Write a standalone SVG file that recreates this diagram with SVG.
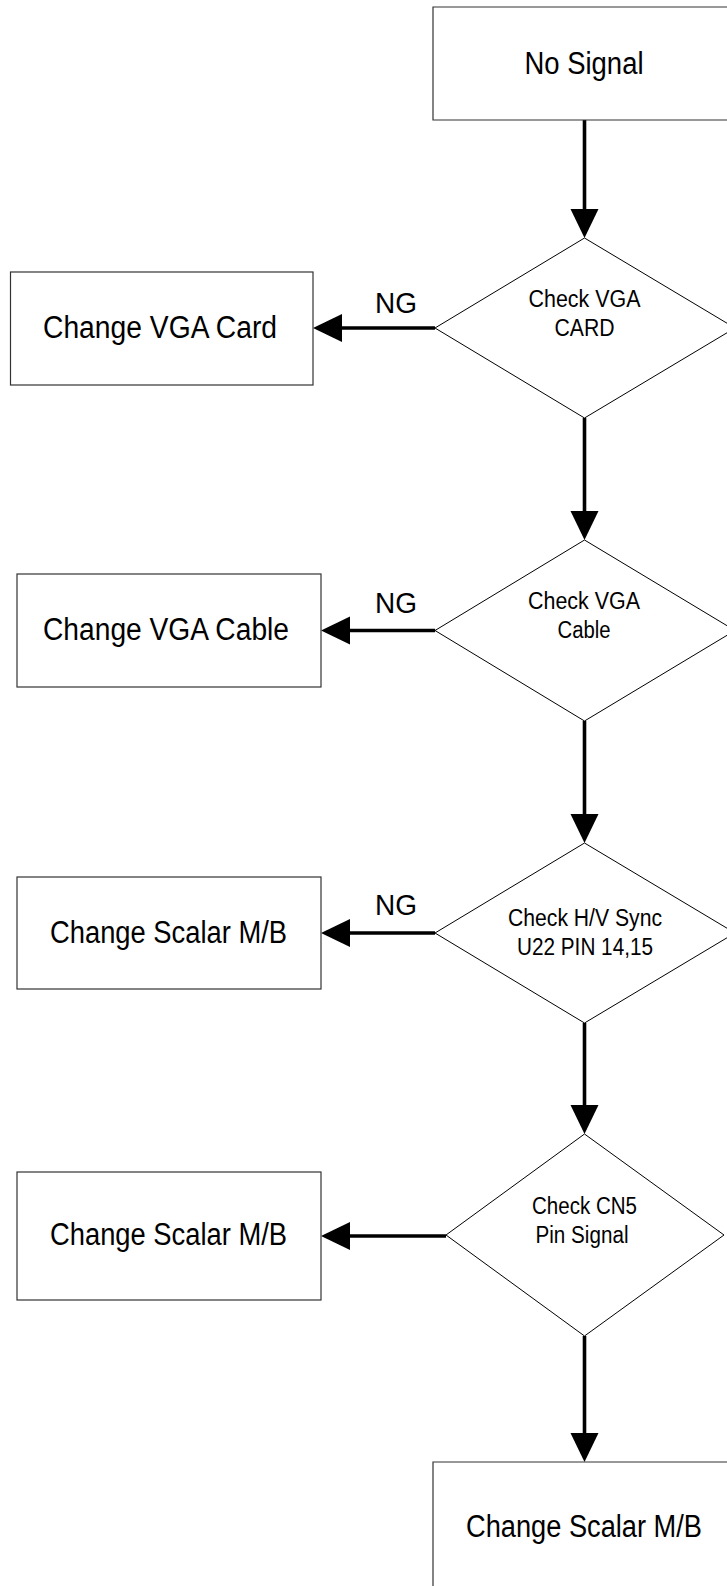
<svg xmlns="http://www.w3.org/2000/svg" width="727" height="1586" viewBox="0 0 727 1586">
<style>
.box{fill:#fff;stroke:#333;stroke-width:1.2}
.dia{fill:#fff;stroke:#000;stroke-width:1}
.t{font-family:"Liberation Sans",Arial,sans-serif;fill:#000;text-anchor:middle}
.bt{font-size:31px}
.dt{font-size:23px}
.ng{font-size:30px}
.ln{stroke:#000;stroke-width:3.6;fill:none}
.hd{fill:#000;stroke:none}
</style>
<rect width="727" height="1586" fill="#fff"/>
<g id="connectors">
<line class="ln" x1="584.5" y1="120" x2="584.5" y2="212"/>
<polygon class="hd" points="570.5,209 598.5,209 584.5,238"/>
<line class="ln" x1="435" y1="328" x2="340" y2="328"/>
<polygon class="hd" points="342,314 342,342 313,328"/>
<line class="ln" x1="584.5" y1="418" x2="584.5" y2="514"/>
<polygon class="hd" points="570.5,511 598.5,511 584.5,540"/>
<line class="ln" x1="435" y1="630.5" x2="347" y2="630.5"/>
<polygon class="hd" points="350,616.5 350,644.5 321,630.5"/>
<line class="ln" x1="584.5" y1="721" x2="584.5" y2="817"/>
<polygon class="hd" points="570.5,814 598.5,814 584.5,843"/>
<line class="ln" x1="435" y1="933" x2="347" y2="933"/>
<polygon class="hd" points="350,919 350,947 321,933"/>
<line class="ln" x1="584.5" y1="1023" x2="584.5" y2="1108"/>
<polygon class="hd" points="570.5,1105 598.5,1105 584.5,1134"/>
<line class="ln" x1="446" y1="1236" x2="347" y2="1236"/>
<polygon class="hd" points="350,1222 350,1250 321,1236"/>
<line class="ln" x1="584.5" y1="1336" x2="584.5" y2="1436"/>
<polygon class="hd" points="570.5,1433 598.5,1433 584.5,1462"/>
<text class="t ng" x="396" y="313" textLength="42" lengthAdjust="spacingAndGlyphs">NG</text>
<text class="t ng" x="396" y="613" textLength="42" lengthAdjust="spacingAndGlyphs">NG</text>
<text class="t ng" x="396" y="915" textLength="42" lengthAdjust="spacingAndGlyphs">NG</text>
</g>
<g id="start">
<path class="box" d="M727,7 H433 V120 H727"/>
<text class="t bt" x="584" y="74" textLength="119" lengthAdjust="spacingAndGlyphs">No Signal</text>
</g>
<g id="check-vga-card">
<polygon class="dia" points="584.5,238 735,328 584.5,418 435,328"/>
<text class="t dt" x="584.5" y="307" textLength="112" lengthAdjust="spacingAndGlyphs">Check VGA</text>
<text class="t dt" x="584.5" y="336" textLength="60" lengthAdjust="spacingAndGlyphs">CARD</text>
</g>
<g id="change-vga-card">
<rect class="box" x="10.5" y="272" width="302.5" height="113"/>
<text class="t bt" x="160" y="338" textLength="234" lengthAdjust="spacingAndGlyphs">Change VGA Card</text>
</g>
<g id="check-vga-cable">
<polygon class="dia" points="584.5,540 735,630.5 584.5,721 435,630.5"/>
<text class="t dt" x="584" y="609" textLength="112" lengthAdjust="spacingAndGlyphs">Check VGA</text>
<text class="t dt" x="584" y="638" textLength="53" lengthAdjust="spacingAndGlyphs">Cable</text>
</g>
<g id="change-vga-cable">
<rect class="box" x="17" y="574" width="304" height="113"/>
<text class="t bt" x="166" y="640" textLength="246" lengthAdjust="spacingAndGlyphs">Change VGA Cable</text>
</g>
<g id="check-hv-sync">
<polygon class="dia" points="584.5,843 735,933 584.5,1023 435,933"/>
<text class="t dt" x="585" y="926" textLength="154" lengthAdjust="spacingAndGlyphs">Check H/V Sync</text>
<text class="t dt" x="585" y="955" textLength="136" lengthAdjust="spacingAndGlyphs">U22 PIN 14,15</text>
</g>
<g id="change-scalar-1">
<rect class="box" x="17" y="877" width="304" height="112"/>
<text class="t bt" x="168.5" y="942.5" textLength="237" lengthAdjust="spacingAndGlyphs">Change Scalar M/B</text>
</g>
<g id="check-cn5">
<polygon class="dia" points="584.5,1134 724,1235 584.5,1336 446,1235"/>
<text class="t dt" x="584.5" y="1214" textLength="105" lengthAdjust="spacingAndGlyphs">Check CN5</text>
<text class="t dt" x="582" y="1243" textLength="93" lengthAdjust="spacingAndGlyphs">Pin Signal</text>
</g>
<g id="change-scalar-2">
<rect class="box" x="17" y="1172" width="304" height="128"/>
<text class="t bt" x="168.5" y="1245" textLength="237" lengthAdjust="spacingAndGlyphs">Change Scalar M/B</text>
</g>
<g id="change-scalar-3">
<path class="box" d="M727,1462 H433 V1586"/>
<text class="t bt" x="584" y="1537" textLength="236" lengthAdjust="spacingAndGlyphs">Change Scalar M/B</text>
</g>
</svg>
